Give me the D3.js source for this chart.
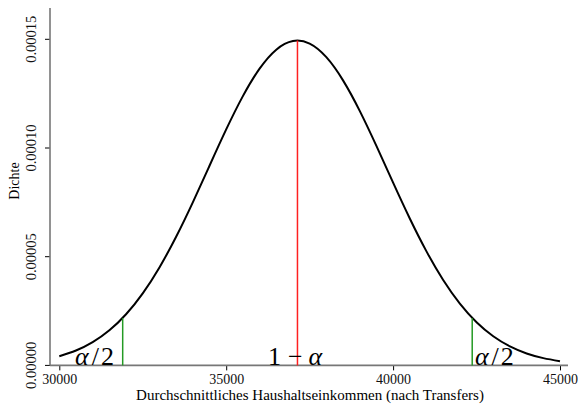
<!DOCTYPE html>
<html>
<head>
<meta charset="utf-8">
<script src="https://cdn.jsdelivr.net/npm/d3@7"></script>
<style>
  body { margin: 0; background: white; }
  text { font-family: "Liberation Serif", "Times New Roman", serif; }
</style>
</head>
<body>
<div class="container"></div>
<script>
// density curve
const incomes = [30000, 30500, 31000, 31500, 32000, 32500, 33000, 33500, 34000, 34500,
                 35000, 35500, 36000, 36500, 37000, 37500, 38000, 38500, 39000,
                 39500, 40000, 40500, 41000, 41500, 42000, 42500, 43000, 43500, 44000,
                 44500, 45000];
const densities = [4.22e-6, 6.83e-6, 1.068e-5, 1.614e-5, 2.354e-5, 3.315e-5, 4.508e-5, 5.918e-5, 7.502e-5, 9.184e-5,
                   1.0855e-4, 1.2387e-4, 1.365e-4, 1.4524e-4, 1.4921e-4, 1.4801e-4, 1.4177e-4, 1.3111e-4, 1.1708e-4,
                   1.0096e-4, 8.404e-5, 6.756e-5, 5.244e-5, 3.93e-5, 2.844e-5, 1.987e-5, 1.341e-5, 8.73e-6, 5.49e-6,
                   3.34e-6, 1.96e-6];

const meanIncome = 37135;
const peakDensity = 1.494e-4;
const lowerBound = 31899;
const upperBound = 42370;
const boundDensity = 2.17e-5;

const xTicks = [30000, 35000, 40000, 45000];
const yTicks = [0, 0.00005, 0.0001, 0.00015];

// [text, italic, dx]
const areaLabels = [
  { x: 30470, parts: [["α", true, 0], ["/", false, 3], ["2", false, 2]] },
  { x: 36250, parts: [["1", false, 0], ["−", false, 7], ["α", true, 6]] },
  { x: 42450, parts: [["α", true, 0], ["/", false, 3], ["2", false, 2]] }
];

const w = 578;
const h = 404;

const svg = d3.select(".container")
              .append("svg")
              .attr("width", w)
              .attr("height", h);

const xScale = d3.scaleLinear()
                 .domain([30000, 45000])
                 .range([59.3, 560]);

const yScale = d3.scaleLinear()
                 .domain([0, 0.00015])
                 .range([365.4, 39.3]);

// axes
const xAxis = d3.axisBottom(xScale)
                .tickValues(xTicks)
                .tickSize(5)
                .tickPadding(4)
                .tickFormat(d3.format("d"));

const yAxis = d3.axisLeft(yScale)
                .tickValues(yTicks)
                .tickSize(5)
                .tickFormat(d3.format(".5f"));

const gx = svg.append("g")
   .attr("transform", "translate(0," + yScale(0) + ")")
   .call(xAxis);
gx.select(".domain").remove();
gx.selectAll("text")
  .style("font-size", "14px")
  .style("font-family", "Liberation Serif")
  .attr("fill", "#111");

const gy = svg.append("g")
   .attr("transform", "translate(50,0)")
   .call(yAxis);
gy.select(".domain").remove();
gy.selectAll("text")
  .style("font-size", "14.5px")
  .style("font-family", "Liberation Serif")
  .attr("fill", "#111")
  .attr("text-anchor", "middle")
  .attr("x", null)
  .attr("dy", null)
  .attr("transform", (d) => "translate(-14," + yScale(d) + ") rotate(-90)")
  .attr("y", 0);
gy.selectAll(".tick").attr("transform", null);
gy.selectAll(".tick line").attr("transform", (d) => "translate(0," + yScale(d) + ")");

// axis lines
svg.append("line")
   .attr("x1", 50).attr("x2", 50)
   .attr("y1", 8).attr("y2", yScale(0))
   .attr("stroke", "#777")
   .attr("stroke-width", 1.6);
svg.append("line")
   .attr("x1", 50).attr("x2", 568)
   .attr("y1", yScale(0)).attr("y2", yScale(0))
   .attr("stroke", "#777")
   .attr("stroke-width", 1.6);

// density curve
const line = d3.line()
               .x((d, i) => xScale(incomes[i]))
               .y((d) => yScale(d))
               .curve(d3.curveNatural);

svg.append("path")
   .datum(densities)
   .attr("d", line)
   .attr("fill", "none")
   .attr("stroke", "black")
   .attr("stroke-width", 2);

// red mean line
svg.append("line")
   .attr("x1", xScale(meanIncome)).attr("x2", xScale(meanIncome))
   .attr("y1", yScale(0)).attr("y2", yScale(peakDensity))
   .attr("stroke", "#ff2020")
   .attr("stroke-width", 1.5);

// green bounds
[lowerBound, upperBound].forEach((b) => {
  svg.append("line")
     .attr("x1", xScale(b)).attr("x2", xScale(b))
     .attr("y1", yScale(0)).attr("y2", yScale(boundDensity))
     .attr("stroke", "#249a24")
     .attr("stroke-width", 1.5);
});

// area labels
areaLabels.forEach((lab) => {
  const t = svg.append("text")
               .attr("x", xScale(lab.x))
               .attr("y", 365)
               .style("font-size", "26px");
  lab.parts.forEach((p) => {
    t.append("tspan")
     .attr("dx", p[2])
     .text(p[0])
     .style("font-style", p[1] ? "italic" : "normal");
  });
});

// axis titles
svg.append("text")
   .attr("x", 310)
   .attr("y", 400)
   .attr("text-anchor", "middle")
   .style("font-size", "15px")
   .text("Durchschnittliches Haushaltseinkommen (nach Transfers)");

svg.append("text")
   .attr("transform", "translate(19,181) rotate(-90)")
   .attr("text-anchor", "middle")
   .style("font-size", "14px")
   .text("Dichte");
</script>
</body>
</html>
